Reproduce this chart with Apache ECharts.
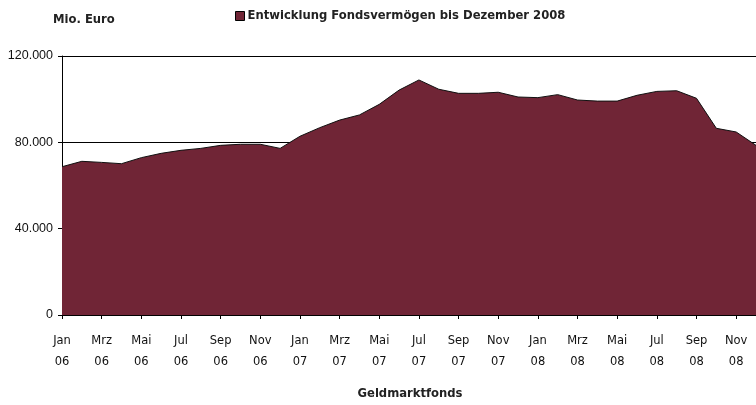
<!DOCTYPE html>
<html>
<head>
<meta charset="utf-8">
<script src="https://cdn.jsdelivr.net/npm/echarts@6/dist/echarts.min.js"></script>
<style>html,body{margin:0;padding:0;background:#fff}#c{width:756px;height:405px}</style>
</head>
<body>
<div id="c"></div>
<script>
const categories = ["Jan 06","Feb 06","Mrz 06","Apr 06","Mai 06","Jun 06","Jul 06","Aug 06","Sep 06","Okt 06","Nov 06","Dez 06",
  "Jan 07","Feb 07","Mrz 07","Apr 07","Mai 07","Jun 07","Jul 07","Aug 07","Sep 07","Okt 07","Nov 07","Dez 07",
  "Jan 08","Feb 08","Mrz 08","Apr 08","Mai 08","Jun 08","Jul 08","Aug 08","Sep 08","Okt 08","Nov 08","Dez 08"];
const fondsvermoegen = [68700,71200,70700,70100,72900,74900,76300,77200,78600,79100,79100,77200,
  82800,86800,90300,92700,97600,104200,108900,104600,102700,102700,103200,101000,
  100700,102100,99600,99100,99100,101800,103600,103900,100400,86500,84800,78600];
const yTicks = [0,40000,80000,120000];
const seriesName = "Entwicklung Fondsvermögen bis Dezember 2008";
const yUnit = "Mio. Euro";
const xTitle = "Geldmarktfonds";

const chart = echarts.init(document.getElementById('c'), null, {renderer:'canvas'});
const fmt = v => v === 0 ? '0' : String(v).replace(/\B(?=(\d{3})+(?!\d))/g, '.');
chart.setOption({
  animation:false,
  title:[
    {text:yUnit,left:53,top:14,padding:0,textStyle:{fontFamily:'DejaVu Sans',fontSize:11.6,fontWeight:'bold',color:'#222'}},
    {text:xTitle,left:410,top:388,padding:0,textAlign:'center',textStyle:{fontFamily:'DejaVu Sans',fontSize:11.6,fontWeight:'bold',color:'#222'}}
  ],
  legend:{left:230,top:5,itemWidth:9,itemHeight:9,itemGap:4,icon:'rect',
    itemStyle:{borderColor:'#000',borderWidth:1},
    textStyle:{fontFamily:'DejaVu Sans',fontSize:11.6,fontWeight:'bold',color:'#222',padding:[0,0,0,-2]},
    data:[seriesName]},
  grid:{left:62,top:56,bottom:90,right:-2,containLabel:false},
  xAxis:{type:'category',data:categories,boundaryGap:false,
    axisLine:{lineStyle:{color:'#000',width:1}},
    axisTick:{interval:1,length:4,lineStyle:{color:'#000'}},
    axisLabel:{interval:1,margin:16,lineHeight:21,fontFamily:'DejaVu Sans',fontSize:11.5,color:'#111',
      formatter:v=>v.replace(' ','\n')},
    splitLine:{show:false}},
  yAxis:{type:'value',min:yTicks[0],max:yTicks[yTicks.length-1],interval:40000,
    axisLine:{show:true,lineStyle:{color:'#000',width:1}},
    axisTick:{show:true,length:4,lineStyle:{color:'#000'}},
    axisLabel:{margin:9,fontFamily:'Liberation Sans',fontSize:12.5,color:'#111',formatter:fmt},
    splitLine:{show:true,lineStyle:{color:'#000',width:1}}},
  series:[{name:seriesName,type:'line',data:fondsvermoegen,symbol:'none',color:'#702536',
    lineStyle:{color:'#111',width:1},
    areaStyle:{color:'#702536',opacity:1},clip:true}]
});
</script>
</body>
</html>
